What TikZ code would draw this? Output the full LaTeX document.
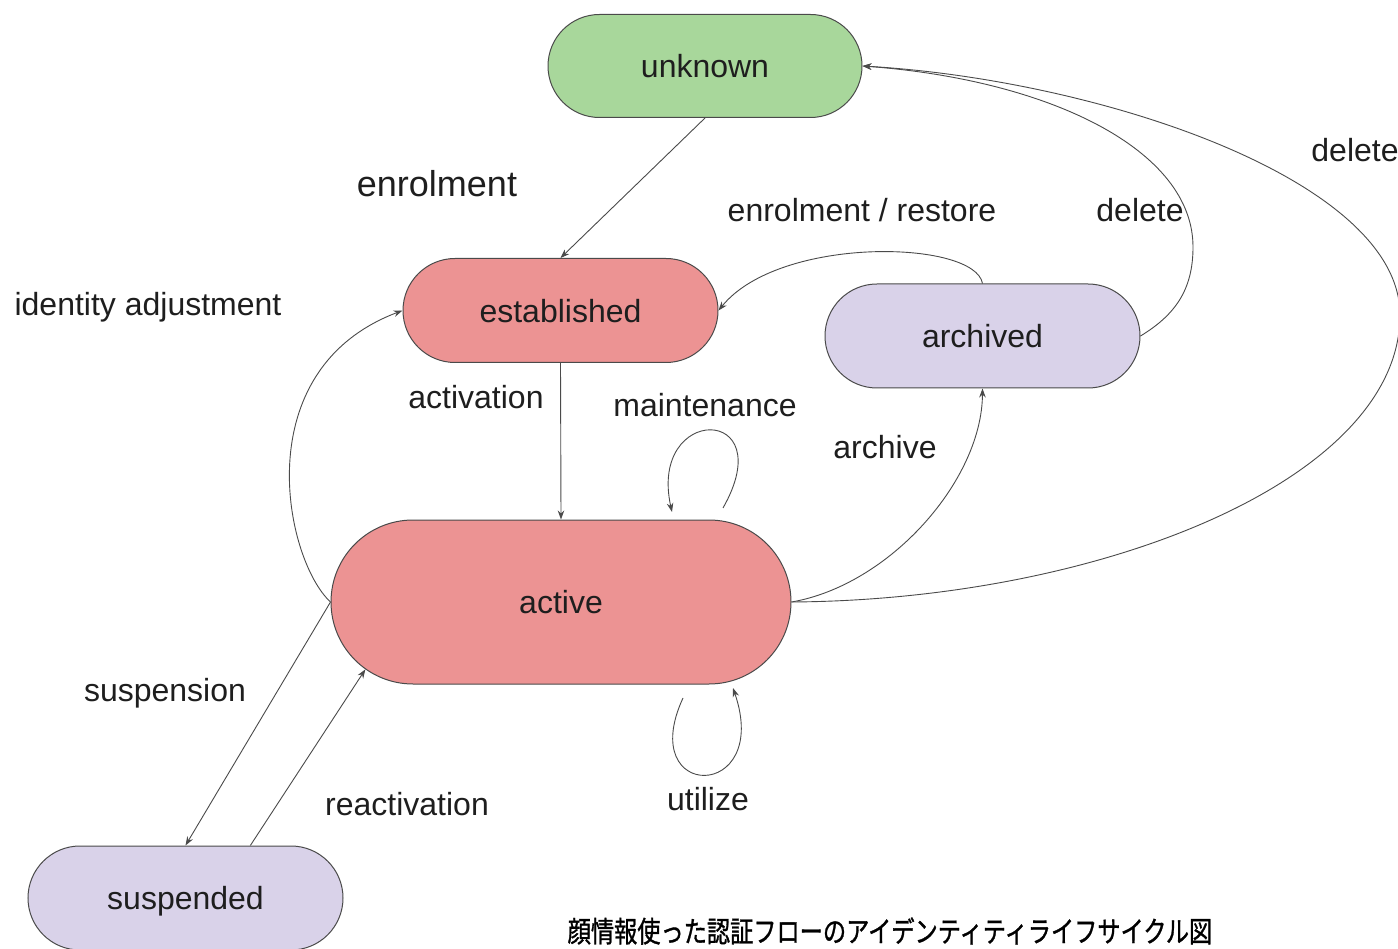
\documentclass[tikz,border=0pt]{standalone}
\usepackage{fontspec}
\setmainfont{Liberation Sans}
\newfontfamily\jpfont[FakeBold=1.2]{Noto Sans CJK JP}
\usetikzlibrary{shapes.misc,arrows.meta}
\definecolor{stategreen}{HTML}{A8D79B}
\definecolor{statered}{HTML}{EC9393}
\definecolor{statepurple}{HTML}{D9D2E9}
\definecolor{edgegray}{HTML}{4A4A4A}
\definecolor{textdark}{HTML}{1E1E1E}
\begin{document}
\begin{tikzpicture}[x=1pt,y=-1pt,
  state/.style={rounded rectangle, draw=edgegray, line width=1pt,
    minimum height=104pt, minimum width=315pt, inner sep=0pt,
    text depth=0pt, font=\fontsize{32}{38}\selectfont, text=textdark},
  trans/.style={draw=edgegray, line width=0.9pt, -{Stealth[length=9pt,width=6.5pt]}},
  lbl/.style={font=\fontsize{32}{38}\selectfont, anchor=base, inner sep=0pt, text=textdark}]
\useasboundingbox (0,0) rectangle (1398,949);

% states
\node[state, fill=stategreen, minimum width=314pt, minimum height=103pt] (unknown) at (705,66) {unknown};
\node[state, fill=statered] (established) at (560.5,310.5) {established};
\node[state, fill=statepurple] (archived) at (982.5,336) {archived};
\node[state, fill=statered, minimum width=460pt, minimum height=164pt] (active) at (561,602) {active};
\node[state, fill=statepurple] (suspended) at (185.5,898) {suspended};

% transitions
\draw[trans] (unknown.south) -- (established.north);
\draw[trans] (established.south) -- (active.north);
\draw[trans] (active.west) .. controls (285,560) and (245,370) .. (established.west);
\draw[trans] (active.east) .. controls (890,585) and (982,480) .. (archived.south);
\draw[trans] (archived.north) .. controls (975,240) and (780,235) .. (established.east);
\draw[trans] (archived.east) .. controls (1175,315) and (1193,290) .. (1193,247)
  .. controls (1193,150) and (1050,80) .. (unknown.east);
\draw[trans] (active.east) .. controls (1100,600) and (1400,480) .. (1400,315)
  .. controls (1400,180) and (1100,80) .. (unknown.east);
\draw[trans] (active.west) -- (suspended.north);
\draw[trans] (suspended.39.5) -- (active.199);

% self loops on active
\coordinate (maintA) at (723,508);
\coordinate (maintB) at (672,512);
\draw[trans] (maintA) .. controls (782,404) and (648,404) .. (maintB);
\coordinate (utilA) at (683,698);
\coordinate (utilB) at (733,688);
\draw[trans] (utilA) .. controls (635,802) and (772,802) .. (utilB);

% transition labels
\node[lbl, font=\fontsize{36}{42}\selectfont] (lEnrol) at (437,197) {enrolment};
\node[lbl] (lIdent) at (148,316) {identity adjustment};
\node[lbl] (lAct) at (476,409) {activation};
\node[lbl] (lMaint) at (705,417) {maintenance};
\node[lbl] (lArchive) at (885,458) {archive};
\node[lbl] (lRestore) at (862,222) {enrolment / restore};
\node[lbl] (lDelIn) at (1140,222) {delete};
\node[lbl] (lDelOut) at (1355,162) {delete};
\node[lbl] (lSusp) at (165,701) {suspension};
\node[lbl] (lReact) at (407,815) {reactivation};
\node[lbl] (lUtil) at (708,810) {utilize};

% caption
\node[font=\jpfont\fontsize{29}{33}\selectfont, text=black, xscale=0.80, inner sep=0pt] (caption) at (890,931) {顔情報使った認証フローのアイデンティティライフサイクル図};
\end{tikzpicture}
\end{document}
